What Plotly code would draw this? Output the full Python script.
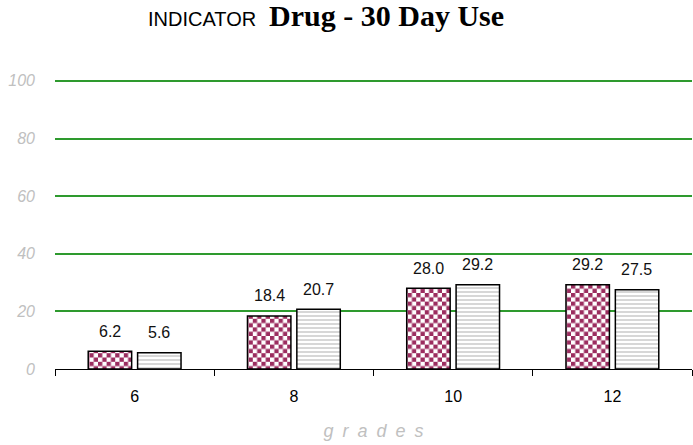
import plotly.graph_objects as go

grades = ["6", "8", "10", "12"]
series_a = [6.2, 18.4, 28.0, 29.2]
series_b = [5.6, 20.7, 29.2, 27.5]
y_ticks = [0, 20, 40, 60, 80, 100]

MAROON = "#9b2d5f"
SANS = "Liberation Sans, Arial, sans-serif"

fig = go.Figure()
fig.add_trace(go.Bar(
    x=grades, y=series_a, name="A",
    marker=dict(color="white", line=dict(color="black", width=1.5),
                pattern=dict(shape="+", fgcolor=MAROON, bgcolor="white",
                             size=8, solidity=0.5)),
))
fig.add_trace(go.Bar(
    x=grades, y=series_b, name="B",
    marker=dict(color="white", line=dict(color="black", width=1.5),
                pattern=dict(shape="-", fgcolor="#9a9a9a", bgcolor="white",
                             size=4, solidity=0.4)),
))

# value labels above each bar (x given as category index)
for vals, dx in ((series_a, -24.6), (series_b, 24.6)):
    for i, v in enumerate(vals):
        fig.add_annotation(x=i, y=v, xref="x", yref="y", text=f"{v:.1f}",
                           showarrow=False, xshift=dx, yshift=20, yanchor="middle",
                           font=dict(family=SANS, size=16, color="#111"))

fig.update_layout(
    width=693, height=445,
    margin=dict(l=55, r=1, t=78, b=76),
    paper_bgcolor="white", plot_bgcolor="white",
    showlegend=False,
    barmode="group", bargap=0.38, bargroupgap=0.12,
    title=dict(
        text="<span style='font-family:Liberation Sans, Arial; font-size:20px'>INDICATOR</span>"
             "\u2002 <b><span style='font-family:Liberation Serif, Times New Roman, serif; font-size:30px'>"
             "Drug - 30 Day Use</span></b>",
        x=148 / 693, xref="container", xanchor="left",
        y=0.955, yref="container", yanchor="middle",
        font=dict(color="black"),
    ),
    xaxis=dict(
        type="category", categoryorder="array", categoryarray=grades,
        range=[-0.5, 3.5], autorange=False,
        showgrid=False, showline=True, linecolor="black", linewidth=1,
        ticks="outside", tickson="boundaries", ticklen=6, tickcolor="black",
        ticklabelstandoff=13,
        tickfont=dict(family=SANS, size=16, color="black"),
        title=dict(text="g\u2002r\u2002a\u2002d\u2002e\u2002s", standoff=20,
                   font=dict(family=SANS, size=18, color="#c0c0c0", style="italic")),
    ),
    yaxis=dict(
        range=[0, 101], tickvals=y_ticks, showgrid=True,
        gridcolor="#2e9a2e", gridwidth=1.5, zeroline=False, showline=False,
        ticklabelstandoff=19,
        tickfont=dict(family=SANS, size=16, color="#c0c0c0", style="italic"),
    ),
)

# swap the first series' tile for a checkerboard
checker_js = """
var gd = document.getElementById('{plot_id}');
var tr = gd.querySelectorAll('g.trace.bars');
if (tr.length) {
  var p = tr[0].querySelector('g.point path');
  var m = p && (p.style.fill || p.getAttribute('fill') || '').match(/#([^"')]+)/);
  var pat = m && document.getElementById(m[1]);
  if (pat) {
    var s = 4.3, ns = 'http://www.w3.org/2000/svg';
    while (pat.firstChild) pat.removeChild(pat.firstChild);
    pat.setAttribute('width', 2 * s);
    pat.setAttribute('height', 2 * s);
    pat.removeAttribute('patternTransform');
    var cells = [[0, 0, 2 * s, 2 * s, 'white'], [0, 0, s, s, '%s'], [s, s, s, s, '%s']];
    cells.forEach(function (c) {
      var r = document.createElementNS(ns, 'rect');
      r.setAttribute('x', c[0]); r.setAttribute('y', c[1]);
      r.setAttribute('width', c[2]); r.setAttribute('height', c[3]);
      r.setAttribute('fill', c[4]);
      pat.appendChild(r);
    });
  }
}
""" % (MAROON, MAROON)

fig.write_html("out.html", post_script=checker_js)
